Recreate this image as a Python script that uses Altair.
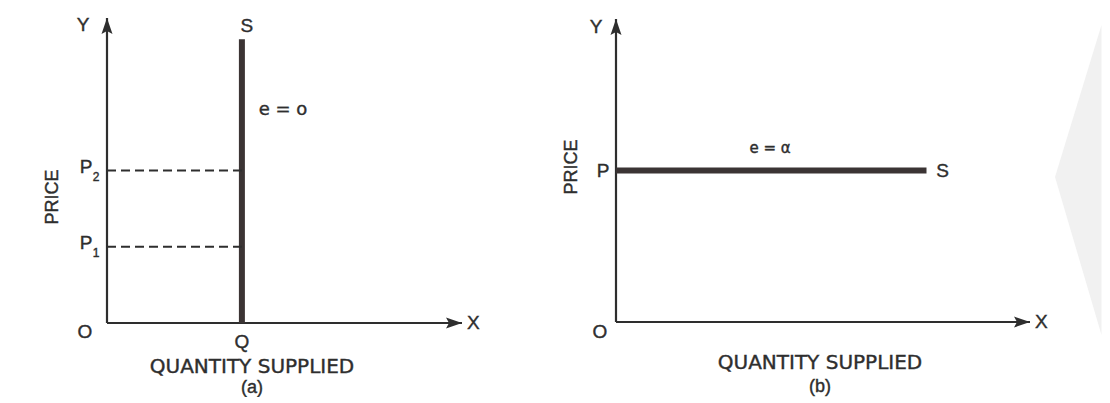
import altair as alt
import pandas as pd

# ---------------- data (axis length = 10 units) ----------
AXIS_MAX = 10.0

# panel (a): perfectly inelastic supply
A_Q = 3.8              # quantity where the vertical S line stands
A_S_TOP = 9.3          # top of the S line
A_P_LEVELS = [2.5, 5.0]  # P1, P2
A_P_SUBS = ["1", "2"]

# panel (b): perfectly elastic supply
B_P = 5.0              # price level of the horizontal S line
B_S_END = 7.5          # right end of the S line

INK = "#2e2e2e"
SUPPLY = "#3b3434"
FONT = "Liberation Sans"
WIDE = "DejaVu Sans"
H = 385

UP = "M0,0L1.1,3.2L0,2.6L-1.1,3.2Z"
RIGHT = "M0,0L-3.2,-1.1L-2.6,0L-3.2,1.1Z"
CHEVRON = "M0.1,-1L-0.2,-0.02L0.1,1Z"


def make_scales(width, height, ox, oy, lx, ly):
    ux = lx / AXIS_MAX
    uy = ly / AXIS_MAX
    xs = alt.Scale(domain=[-ox / ux, (width - ox) / ux], nice=False, zero=False)
    ys = alt.Scale(domain=[-(height - oy) / uy, oy / uy], nice=False, zero=False)
    return xs, ys


def enc(xs, ys):
    return dict(
        x=alt.X("x:Q", scale=xs, axis=None),
        y=alt.Y("y:Q", scale=ys, axis=None),
    )


def axes(xs, ys):
    ax = pd.DataFrame({"x": [0.0, 0.0], "y": [0.0, 0.0],
                       "x2": [AXIS_MAX, 0.0], "y2": [0.0, AXIS_MAX]})
    rule = alt.Chart(ax).mark_rule(color=INK, strokeWidth=2.2).encode(
        **enc(xs, ys), x2="x2:Q", y2="y2:Q")
    up = alt.Chart(pd.DataFrame({"x": [0.0], "y": [AXIS_MAX]})).mark_point(
        shape=UP, filled=True, size=100, color=INK, opacity=1).encode(**enc(xs, ys))
    right = alt.Chart(pd.DataFrame({"x": [AXIS_MAX], "y": [0.0]})).mark_point(
        shape=RIGHT, filled=True, size=100, color=INK, opacity=1).encode(**enc(xs, ys))
    return [rule, up, right]


def label(xs, ys, x, y, text, dx=0, dy=0, size=19, font=FONT, align="center"):
    return alt.Chart(pd.DataFrame({"x": [x], "y": [y], "t": [text]})).mark_text(
        font=font, fontSize=size, color=INK, stroke=INK, strokeWidth=0.4,
        dx=dx, dy=dy, align=align, baseline="middle").encode(**enc(xs, ys), text="t:N")


def free_text(px, py, text, size=20, font=WIDE, angle=0):
    kw = dict(font=font, fontSize=size, color=INK, stroke=INK, strokeWidth=0.4,
              align="center", baseline="middle")
    if angle:
        kw["angle"] = angle
    return alt.Chart(pd.DataFrame({"t": [text]})).mark_text(**kw).encode(
        x=alt.value(px), y=alt.value(py), text="t:N")


# ---------------- panel (a) ----------------
WA = 500
xa, ya = make_scales(WA, H, 99, 315, 355, 305)
a_layers = axes(xa, ya)
s_a = pd.DataFrame({"x": [A_Q], "y": [0.0], "y2": [A_S_TOP]})
a_layers.append(alt.Chart(s_a).mark_rule(color=SUPPLY, strokeWidth=6).encode(
    **enc(xa, ya), y2="y2:Q"))
dash = pd.DataFrame({"x": [0.0] * len(A_P_LEVELS), "x2": [A_Q] * len(A_P_LEVELS),
                     "y": A_P_LEVELS})
a_layers.append(alt.Chart(dash).mark_rule(color=INK, strokeWidth=1.8,
                                          strokeDash=[9, 5]).encode(
    **enc(xa, ya), x2="x2:Q"))
for lvl, sub in zip(A_P_LEVELS, A_P_SUBS):
    a_layers.append(label(xa, ya, 0, lvl, "P", dx=-21, dy=-4))
    a_layers.append(label(xa, ya, 0, lvl, sub, dx=-11, dy=6, size=12))
a_layers += [
    label(xa, ya, A_Q, A_S_TOP, "S", dx=5, dy=-13),
    label(xa, ya, A_Q, 0, "Q", dy=19),
    label(xa, ya, 0, 0, "O", dx=-22, dy=9),
    label(xa, ya, 0, AXIS_MAX, "Y", dx=-24, dy=7),
    label(xa, ya, AXIS_MAX, 0, "X", dx=5, align="left"),
    free_text(275, 102, "e = o", size=18),
    free_text(45, 189, "PRICE", size=18, font=FONT, angle=270),
    free_text(244, 359, "QUANTITY SUPPLIED"),
    free_text(244, 380, "(a)", size=18, font=FONT),
]
panel_a = alt.layer(*a_layers).properties(width=WA, height=H)

# ---------------- panel (b) ----------------
WB = 594
xb, yb = make_scales(WB, H, 108, 314, 414, 303)
watermark = alt.Chart(pd.DataFrame({"k": [0]})).mark_point(
    shape=CHEVRON, filled=True, size=310 * 310, color="#f1f1f1", opacity=1).encode(
    x=alt.value(578), y=alt.value(172))
b_layers = [watermark] + axes(xb, yb)
s_b = pd.DataFrame({"x": [0.0], "x2": [B_S_END], "y": [B_P]})
b_layers.append(alt.Chart(s_b).mark_rule(color=SUPPLY, strokeWidth=6).encode(
    **enc(xb, yb), x2="x2:Q"))
b_layers += [
    label(xb, yb, B_S_END, B_P, "S", dx=16),
    label(xb, yb, 0, B_P, "P", dx=-13),
    label(xb, yb, 0, 0, "O", dx=-16, dy=10),
    label(xb, yb, 0, AXIS_MAX, "Y", dx=-20, dy=8),
    label(xb, yb, AXIS_MAX, 0, "X", dx=5, align="left"),
    free_text(262, 140, "e = α", size=15),
    free_text(64, 159, "PRICE", size=18, font=FONT, angle=270),
    free_text(312, 355, "QUANTITY SUPPLIED"),
    free_text(312, 379, "(b)", size=18, font=FONT),
]
panel_b = alt.layer(*b_layers).properties(width=WB, height=H)

chart = alt.hconcat(panel_a, panel_b, spacing=0).properties(
    padding=0, background="white"
).configure_view(stroke=None)

chart.save("out.html", embed_options={"renderer": "svg", "actions": False})
